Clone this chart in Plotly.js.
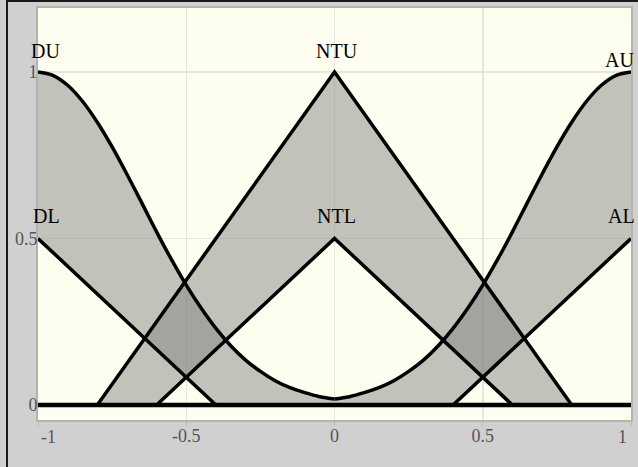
<!DOCTYPE html>
<html>
<head>
<meta charset="utf-8">
<script src="https://cdn.plot.ly/plotly-3.0.1.min.js"></script>
<style>
  html, body { margin: 0; padding: 0; background: #d0d0d0; }
  #wrap { position: relative; width: 638px; height: 467px; overflow: hidden; }
  #chart { position: absolute; left: 0; top: 0; width: 638px; height: 467px; }
  #edgeL { position: absolute; left: 6px; top: 0; width: 2px; height: 467px; background: #1a1a1a; pointer-events: none; }
  #edgeT { position: absolute; left: 6px; top: 0; width: 632px; height: 2px; background: #1a1a1a; pointer-events: none; }
</style>
</head>
<body>
<div id="wrap">
  <div id="chart"></div>
  <div id="edgeL"></div>
  <div id="edgeT"></div>
</div>
<script>
// Interval type-2 fuzzy sets on [-1, 1]: upper / lower membership functions

// "D" set: upper membership (smooth shoulder) and lower membership (line)
const duX = [-1, -0.95, -0.9, -0.85, -0.8, -0.75, -0.7, -0.65, -0.6, -0.55, -0.5,
             -0.45, -0.4, -0.35, -0.3, -0.25, -0.2, -0.15, -0.1, -0.05, 0];
const duY = [1.00, 0.990, 0.960, 0.912, 0.849, 0.775, 0.693, 0.607, 0.520, 0.437, 0.360,
             0.291, 0.230, 0.178, 0.135, 0.101, 0.073, 0.052, 0.037, 0.025, 0.018];
const dlX = [-1, -0.4];
const dlY = [0.5, 0];

// "NT" set: triangular upper and lower memberships
const ntuX = [-0.8, 0, 0.8];
const ntuY = [0, 1, 0];
const ntlX = [-0.6, 0, 0.6];
const ntlY = [0, 0.5, 0];

// "A" set: upper membership (smooth shoulder) and lower membership (line)
const auX = [0, 0.05, 0.1, 0.15, 0.2, 0.25, 0.3, 0.35, 0.4, 0.45, 0.5,
             0.55, 0.6, 0.65, 0.7, 0.75, 0.8, 0.85, 0.9, 0.95, 1];
const auY = [0.018, 0.025, 0.037, 0.052, 0.073, 0.101, 0.135, 0.178, 0.230, 0.291, 0.360,
             0.437, 0.520, 0.607, 0.693, 0.775, 0.849, 0.912, 0.960, 0.990, 1.00];
const alX = [0.4, 1];
const alY = [0, 0.5];

// Axis ticks (the two end labels are kept inside the frame as annotations)
const xTicks = [-1, -0.5, 0, 0.5, 1];
const xTickText = ['', '-0.5', '0', '0.5', ''];
const xEndTicks = [-1, 1];
const xEndText = ['-1', '1'];
const yTicks = [0, 0.5, 1];
const yTickText = ['0', '0.5', '1'];

// Set names
const setLabels = ['DU', 'NTU', 'AU', 'DL', 'NTL', 'AL'];

const FOU_FILL = 'rgba(128,128,128,0.47)';
const EDGE = '#000000';

function rev(a) { return a.slice().reverse(); }

// Footprint of uncertainty polygons (upper path, then lower path back)
const fouD = {
  x: duX.concat([0], rev(dlX)),
  y: duY.concat([0], rev(dlY))
};
const fouN = {
  x: ntuX.concat(rev(ntlX)),
  y: ntuY.concat(rev(ntlY))
};
const fouA = {
  x: rev(auX).concat([0], alX),
  y: rev(auY).concat([0], alY)
};

function fill(p) {
  return { x: p.x, y: p.y, mode: 'lines', fill: 'toself', fillcolor: FOU_FILL,
           line: { width: 0, color: 'rgba(0,0,0,0)' }, hoverinfo: 'skip', showlegend: false };
}
function edge(x, y, w, shape) {
  return { x: x, y: y, mode: 'lines',
           line: { color: EDGE, width: w || 3.5, shape: shape || 'linear', smoothing: 1 },
           hoverinfo: 'skip', showlegend: false, cliponaxis: false };
}

const traces = [
  fill(fouD), fill(fouN), fill(fouA),
  edge(duX, duY, 3.5, 'spline'), edge(dlX, dlY),
  edge(ntuX, ntuY), edge(ntlX, ntlY),
  edge(auX, auY, 3.5, 'spline'), edge(alX, alY),
  edge([-1, 1], [0, 0], 4.5)
];

const labelFont = { family: 'Liberation Serif, Times New Roman, serif', size: 20, color: '#000' };
const labelPos = [
  [-0.975, 1.062], [0.008, 1.062], [0.962, 1.037],
  [-0.97, 0.568], [0.008, 0.568], [0.968, 0.568]
];
const annotations = setLabels.map((t, i) => ({
  x: labelPos[i][0], y: labelPos[i][1], xref: 'x', yref: 'y', text: t,
  showarrow: false, xanchor: 'center', yanchor: 'middle', font: labelFont
}));

const tickFont = { family: 'Liberation Serif, Times New Roman, serif', size: 18, color: '#555555' };

// End tick labels of the x axis, nudged inward
xEndTicks.forEach((v, i) => {
  annotations.push({
    x: v, y: 0, xref: 'x', yref: 'paper', text: xEndText[i], showarrow: false,
    xanchor: i === 0 ? 'left' : 'right', yanchor: 'middle',
    xshift: i === 0 ? 1 : -2, yshift: -17, font: tickFont
  });
});

const layout = {
  width: 638, height: 467,
  margin: { l: 38, r: 7, t: 8, b: 47, pad: 0 },
  paper_bgcolor: '#d0d0d0',
  plot_bgcolor: '#fefef0',
  showlegend: false,
  xaxis: {
    range: [-1, 1], tickvals: xTicks, ticktext: xTickText,
    showgrid: true, gridcolor: '#e6e6dc', gridwidth: 1.5, zeroline: false,
    ticks: 'outside', ticklen: 4, tickcolor: '#bcbcb4', tickwidth: 1,
    ticklabelstandoff: -6,
    showline: true, mirror: true, linecolor: '#b4b4ac', linewidth: 2,
    tickfont: tickFont, fixedrange: true
  },
  yaxis: {
    range: [-0.045, 1.192], tickvals: yTicks, ticktext: yTickText,
    showgrid: true, gridcolor: '#e6e6dc', gridwidth: 1.5, zeroline: false,
    ticks: '', ticklabelstandoff: -5,
    showline: true, mirror: true, linecolor: '#b4b4ac', linewidth: 2,
    tickfont: tickFont, fixedrange: true
  },
  annotations: annotations
};

Plotly.newPlot('chart', traces, layout, { displayModeBar: false, staticPlot: true });
</script>
</body>
</html>
